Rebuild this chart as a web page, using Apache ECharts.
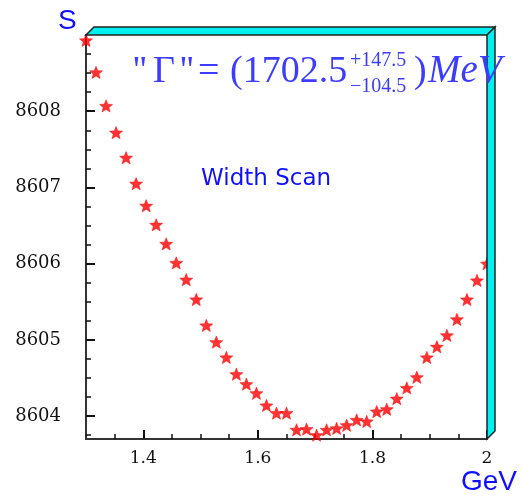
<!DOCTYPE html>
<html><head><meta charset="utf-8">
<script src="https://cdn.jsdelivr.net/npm/echarts@6/dist/echarts.min.js"></script>
<style>html,body{margin:0;padding:0;background:#fff}#c{width:523px;height:502px}</style>
</head><body><div id="c"></div>
<script>
const energies = [1.3, 1.3175, 1.335, 1.3525, 1.37, 1.3875, 1.405, 1.4225, 1.44, 1.4575,
  1.475, 1.4925, 1.51, 1.5275, 1.545, 1.5625, 1.58, 1.5975, 1.615, 1.6325,
  1.65, 1.6675, 1.685, 1.7025, 1.72, 1.7375, 1.755, 1.7725, 1.79, 1.8075,
  1.825, 1.8425, 1.86, 1.8775, 1.895, 1.9125, 1.93, 1.9475, 1.965, 1.9825, 2.0];
const sValues = [8608.93, 8608.51, 8608.07, 8607.72, 8607.39, 8607.05, 8606.76, 8606.51, 8606.26, 8606.01,
  8605.79, 8605.53, 8605.19, 8604.97, 8604.77, 8604.55, 8604.42, 8604.30, 8604.14, 8604.04,
  8604.04, 8603.82, 8603.83, 8603.75, 8603.82, 8603.84, 8603.88, 8603.95, 8603.93, 8604.06,
  8604.09, 8604.23, 8604.37, 8604.51, 8604.77, 8604.91, 8605.06, 8605.27, 8605.53, 8605.78, 8606.00];
const xRange = [1.3, 2.0];
const yRange = [8603.7, 8609];
const xMajorTicks = [1.4, 1.6, 1.8, 2.0];
const xMinorTicks = [1.35, 1.45, 1.5, 1.55, 1.65, 1.7, 1.75, 1.85, 1.9, 1.95];
const yMajorTicks = [8604, 8605, 8606, 8607, 8608];
const yMinorTicks = [8603.75, 8604.25, 8604.5, 8604.75, 8605.25, 8605.5, 8605.75, 8606.25, 8606.5, 8606.75,
  8607.25, 8607.5, 8607.75, 8608.25, 8608.5, 8608.75];

const G = {left: 86, top: 35, width: 401, height: 404};
const R = G.left + G.width, B = G.top + G.height, D = 8;
const blue = '#1010ff', fblue = '#3c3cff', cyan = '#00f0f0';
const star = 'path://M0,-10 L2.6,-3.4 L9.6,-3.1 L4.2,1.4 L6,8.2 L0,4.4 L-6,8.2 L-4.2,1.4 L-9.6,-3.1 L-2.6,-3.4 Z';

const chart = echarts.init(document.getElementById('c'), null, {renderer: 'canvas'});
const baseX = {type: 'value', min: xRange[0], max: xRange[1], position: 'bottom', splitLine: {show: false}};
const baseY = {type: 'value', min: yRange[0], max: yRange[1], position: 'left', splitLine: {show: false}};
function txt(x, y, text, font, fill) {
  return {type: 'text', z: 20, x: x, y: y, style: {text: text, font: font, fill: fill, align: 'left', verticalAlign: 'middle'}};
}
const F38 = '38px "Liberation Serif"', F20 = '20px "Liberation Serif"';
chart.setOption({
  animation: false,
  backgroundColor: '#fff',
  grid: {left: G.left, top: G.top, width: G.width, height: G.height, containLabel: false},
  xAxis: [
    Object.assign({}, baseX, {
      axisLine: {show: true, lineStyle: {color: '#333', width: 2}},
      axisTick: {show: true, inside: true, length: 9, customValues: xMajorTicks, lineStyle: {color: '#111', width: 2}},
      axisLabel: {show: true, customValues: xMajorTicks, margin: 11, color: '#111', fontFamily: 'DejaVu Serif', fontSize: 17,
        formatter: v => String(Math.round(v * 10) / 10)}
    }),
    Object.assign({}, baseX, {
      axisLine: {show: false},
      axisTick: {show: true, inside: true, length: 5, customValues: xMinorTicks, lineStyle: {color: '#111', width: 1.5}},
      axisLabel: {show: false}
    })
  ],
  yAxis: [
    Object.assign({}, baseY, {
      axisLine: {show: true, lineStyle: {color: '#333', width: 2}},
      axisTick: {show: true, inside: true, length: 9, customValues: yMajorTicks, lineStyle: {color: '#111', width: 2}},
      axisLabel: {show: true, customValues: yMajorTicks, margin: 25, color: '#111', fontFamily: 'DejaVu Serif', fontSize: 18,
        formatter: v => String(Math.round(v))}
    }),
    Object.assign({}, baseY, {
      axisLine: {show: false},
      axisTick: {show: true, inside: true, length: 5, customValues: yMinorTicks, lineStyle: {color: '#111', width: 1.5}},
      axisLabel: {show: false}
    })
  ],
  series: [{
    type: 'scatter',
    xAxisIndex: 0, yAxisIndex: 0,
    symbol: star, symbolSize: 13, symbolKeepAspect: true,
    itemStyle: {color: '#ff0000', borderColor: '#ff0000', borderWidth: 0.6},
    data: energies.map((e, i) => [e, sValues[i]]),
    z: 3
  }],
  graphic: [
    {type: 'polygon', z: 10, shape: {points: [[G.left, G.top], [R, G.top], [R + D, G.top - D], [G.left + D, G.top - D]]},
      style: {fill: cyan, stroke: '#222', lineWidth: 1.5}},
    {type: 'polygon', z: 10, shape: {points: [[R, G.top], [R + D, G.top - D], [R + D, B - D], [R, B]]},
      style: {fill: cyan, stroke: '#222', lineWidth: 1.5}},
    txt(58, 21, 'S', '28px "Liberation Sans"', blue),
    txt(461, 482, 'GeV', '28px "Liberation Sans"', blue),
    txt(201, 179, 'Width Scan', '23px "DejaVu Sans"', blue),
    txt(133, 72, "''", F38, fblue),
    txt(153, 72, 'Γ', F38, fblue),
    txt(180, 72, "''", F38, fblue),
    txt(198, 72, '=', F38, fblue),
    txt(230, 72, '(1702.5', F38, fblue),
    txt(350, 61, '+147.5', F20, fblue),
    txt(350, 87, '\u2212104.5', F20, fblue),
    txt(414, 72, ')', F38, fblue),
    txt(428, 72, 'MeV', 'italic 39px "Liberation Serif"', fblue)
  ]
});
</script></body></html>
